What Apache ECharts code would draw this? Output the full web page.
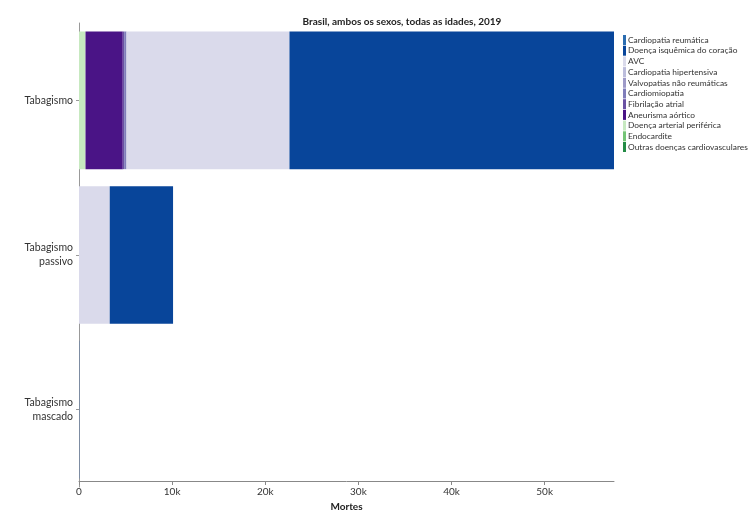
<!DOCTYPE html>
<html>
<head>
<meta charset="utf-8">
<script src="https://cdn.jsdelivr.net/npm/echarts@6/dist/echarts.min.js"></script>
<style>
  html, body { margin: 0; padding: 0; background: #fff; }
  #chart { width: 750px; height: 512px; }
</style>
</head>
<body>
<div id="chart"></div>
<script>
// categories (top to bottom)
const categories = ['Tabagismo', 'Tabagismo\npassivo', 'Tabagismo\nmascado'];

// causes, in legend order
const causes = [
  'Cardiopatia reumática',
  'Doença isquêmica do coração',
  'AVC',
  'Cardiopatia hipertensiva',
  'Valvopatias não reumáticas',
  'Cardiomiopatia',
  'Fibrilação atrial',
  'Aneurisma aórtico',
  'Doença arterial periférica',
  'Endocardite',
  'Outras doenças cardiovasculares'
];

const causeColors = [
  '#2b6cb0', '#08459a', '#dadaeb', '#bcbddc', '#9e9ac8', '#807dba',
  '#6a51a3', '#4a1486', '#c7e9c0', '#74c476', '#238b45'
];

// deaths per cause, per category [Tabagismo, passivo, mascado]
const reumatica    = [0, 0, 0];
const isquemica    = [34850, 6800, 25];
const avc          = [17500, 3300, 15];
const hipertensiva = [0, 0, 0];
const valvopatias  = [0, 0, 0];
const cardiomiop   = [250, 0, 0];
const fibrilacao   = [150, 0, 0];
const aneurisma    = [4000, 0, 0];
const arterial     = [700, 0, 0];
const endocardite  = [0, 0, 0];
const outras       = [0, 0, 0];

const seriesValues = [reumatica, isquemica, avc, hipertensiva, valvopatias,
  cardiomiop, fibrilacao, aneurisma, arterial, endocardite, outras];

const xTicks = [0, 10000, 20000, 30000, 40000, 50000];

const totals = categories.map((_, i) => seriesValues.reduce((s, arr) => s + arr[i], 0));
const xMax = Math.max(...totals);

const font = 'Lato, "Open Sans", sans-serif';

// stack from left: reverse legend order
const series = causes.map((name, idx) => ({
  name: name,
  type: 'bar',
  stack: 'total',
  barCategoryGap: '11%',
  data: seriesValues[idx],
  itemStyle: { color: causeColors[idx] },
  z: 2 + (causes.length - idx)
})).reverse();

const chart = echarts.init(document.getElementById('chart'));

chart.setOption({
  animation: false,
  textStyle: { fontFamily: font },
  title: {
    text: 'Brasil, ambos os sexos, todas as idades, 2019',
    left: 397,
    textAlign: 'center',
    top: 12,
    textStyle: { fontSize: 10, fontWeight: 'bold', color: '#222', fontFamily: font }
  },
  legend: {
    orient: 'vertical',
    left: 618,
    top: 30,
    icon: 'rect',
    itemWidth: 3,
    itemHeight: 10,
    itemGap: 0.7,
    data: causes,
    textStyle: { fontSize: 8.4, color: '#333', fontFamily: font, padding: [0, 0, 0, -3] },
    selectedMode: false
  },
  grid: { left: 79, right: 136, top: 23, bottom: 25, outerBoundsMode: 'none' },
  xAxis: {
    type: 'value',
    min: 0,
    max: xMax,
    interval: 10000,
    offset: -6,
    name: 'Mortes',
    nameLocation: 'middle',
    nameGap: 19,
    nameTextStyle: { fontSize: 10, fontWeight: 'bold', color: '#222', fontFamily: font },
    axisLine: { show: true, lineStyle: { color: '#888' } },
    axisTick: { show: true, length: 4, lineStyle: { color: '#888' } },
    splitLine: { show: false },
    axisLabel: {
      fontSize: 10,
      color: '#333',
      margin: 6,
      showMaxLabel: false,
      formatter: v => xTicks.includes(v) ? (v === 0 ? '0' : (v / 1000) + 'k') : ''
    }
  },
  yAxis: {
    type: 'category',
    inverse: true,
    data: categories,
    axisLine: { show: true, lineStyle: { color: '#999' } },
    axisTick: { show: true, alignWithLabel: true, length: 3, lineStyle: { color: '#999' } },
    axisLabel: { fontSize: 10.5, color: '#333', margin: 6, lineHeight: 14, align: 'right' }
  },
  series: series
});
</script>
</body>
</html>
